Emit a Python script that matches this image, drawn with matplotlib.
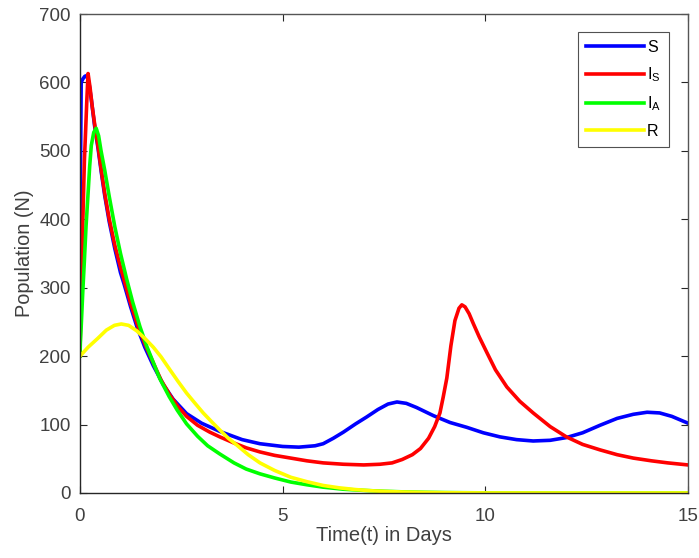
import matplotlib
matplotlib.use("Agg")
import matplotlib.pyplot as plt

plt.rcParams['font.family'] = ['Liberation Sans', 'DejaVu Sans']
plt.rcParams['mathtext.fontset'] = 'custom'
plt.rcParams['mathtext.rm'] = 'Liberation Sans'
plt.rcParams['mathtext.it'] = 'Liberation Sans'

# ---- data ----
t_S = [0, 0.01, 0.03, 0.07, 0.12, 0.17, 0.22, 0.28, 0.36, 0.45, 0.53, 0.61, 0.72, 0.86,
       1.0, 1.09, 1.25, 1.41, 1.6, 1.81, 2.06, 2.3, 2.63, 3.0, 3.45, 4.0, 4.44, 5.0,
       5.4, 5.8, 6.0, 6.25, 6.5, 6.8, 7.07, 7.35, 7.6, 7.82, 8.05, 8.3, 8.72, 9.13,
       9.54, 9.95, 10.36, 10.77, 11.18, 11.6, 12.0, 12.4, 12.83, 13.25, 13.65, 13.99,
       14.3, 14.6, 15.0]
S = [200, 450, 600, 605, 609, 610, 600, 575, 537, 502, 467, 435, 397, 357,
     322, 305, 272, 242, 213, 186, 158, 137, 116, 102, 90, 78, 72, 68,
     67, 69, 72, 80, 89, 101, 111, 122, 130, 133, 131, 125, 113, 103,
     96, 88, 82, 78, 76, 77, 81, 88, 99, 109, 115, 118,
     117, 112, 102]

t_IS = [0, 0.02, 0.05, 0.08, 0.11, 0.14, 0.17, 0.2, 0.25, 0.3, 0.36, 0.45, 0.53, 0.61,
        0.72, 0.86, 1.0, 1.09, 1.25, 1.41, 1.6, 1.81, 2.0, 2.22, 2.42, 2.63, 2.9, 3.2,
        3.45, 3.8, 4.1, 4.44, 4.8, 5.2, 5.6, 6.0, 6.5, 7.0, 7.4, 7.7, 7.95, 8.2, 8.4,
        8.6, 8.75, 8.88, 8.96, 9.05, 9.15, 9.25, 9.35, 9.42, 9.5, 9.6, 9.7, 9.85, 10.04,
        10.25, 10.53, 10.85, 11.18, 11.6, 12.0, 12.4, 12.83, 13.25, 13.65, 14.1, 14.5, 15.0]
I_S = [200, 270, 341, 420, 487, 530, 575, 613, 592, 566, 540, 505, 470, 438,
       401, 362, 330, 311, 277, 247, 218, 190, 165, 143, 126, 112, 99, 89,
       82, 73, 66, 60, 55, 51, 47, 44, 42, 41, 42, 44, 49, 56, 65,
       80, 97, 117, 140, 168, 215, 252, 270, 275, 272, 262, 248, 228, 205,
       180, 155, 134, 117, 97, 82, 71, 63, 56, 51, 47, 44, 41]

t_IA = [0, 0.01, 0.03, 0.07, 0.11, 0.15, 0.2, 0.24, 0.28, 0.34, 0.4, 0.46, 0.52, 0.61,
        0.72, 0.86, 1.0, 1.15, 1.3, 1.48, 1.65, 1.8, 1.97, 2.2, 2.4, 2.63, 2.9, 3.15,
        3.45, 3.8, 4.1, 4.44, 4.8, 5.2, 5.6, 6.0, 6.5, 7.0, 7.5, 8.0, 8.5, 9.0, 10.0,
        12.0, 15.0]
I_A = [200, 220, 243, 295, 341, 390, 438, 478, 508, 527, 533, 522, 500, 472,
       434, 389, 350, 313, 279, 243, 214, 192, 167, 141, 121, 101, 83, 69,
       57, 44, 35, 28, 22, 16, 12, 8.5, 5.5, 3.8, 2.5, 1.6, 1.0, 0.6, 0.2,
       0, 0]

t_R = [0, 0.2, 0.44, 0.65, 0.85, 1.02, 1.2, 1.4, 1.6, 1.81, 2.0, 2.22, 2.42, 2.63,
       2.84, 3.04, 3.25, 3.45, 3.66, 3.87, 4.15, 4.44, 4.8, 5.2, 5.6, 6.0, 6.4, 6.8,
       7.2, 7.6, 8.0, 8.5, 9.0, 10.0, 12.0, 15.0]
R = [200, 213, 226, 238, 245, 247, 245, 237, 226, 213, 199, 180, 163, 146,
     131, 117, 104, 92, 80, 70, 56, 44, 33, 23, 16.5, 11, 7.5, 5,
     3.2, 2.1, 1.4, 0.8, 0.4, 0.1, 0, 0]

series = [(t_S, S, '#0000ff', 'S'),
          (t_IS, I_S, '#ff0000', r'I$_\mathregular{S}$'),
          (t_IA, I_A, '#00ff00', r'I$_\mathregular{A}$'),
          (t_R, R, '#ffff00', 'R')]

x_ticks = [0, 5, 10, 15]
y_ticks = [0, 100, 200, 300, 400, 500, 600, 700]

fig = plt.figure(figsize=(6.99, 5.58), dpi=100)
ax = fig.add_axes([0.1144, 0.1165, 0.8699, 0.8584])

for t, v, c, lab in series:
    ax.plot(t, v, color=c, lw=2.6, label=lab, solid_joinstyle='round')

ax.set_xlim(0, 15)
ax.set_ylim(0, 700)
ax.set_xticks(x_ticks)
ax.set_yticks(y_ticks)
ax.tick_params(direction='in', top=True, right=True, length=5, width=0.8,
               colors='#262626', labelcolor='#404040', labelsize=13.5)
ax.tick_params(axis='x', pad=11)
ax.tick_params(axis='y', pad=6.5)
for side in ['left', 'bottom']:
    ax.spines[side].set_color('#262626')
    ax.spines[side].set_linewidth(1.0)
for side in ['top', 'right']:
    ax.spines[side].set_color('#555555')
    ax.spines[side].set_linewidth(1.0)

ax.set_xlabel('Time(t) in Days', fontsize=14.5, color='#404040', labelpad=0.5)
ax.set_ylabel('Population (N)', fontsize=14.3, color='#404040', labelpad=4)

leg = ax.legend(loc='upper right', bbox_to_anchor=(0.9688, 0.9624), fontsize=11.5,
                frameon=True, fancybox=False, edgecolor='#262626', handlelength=3.6,
                handletextpad=0.2, labelspacing=0.66, borderpad=0.5, borderaxespad=0)
leg.get_frame().set_linewidth(0.8)

fig.savefig('out.png', dpi=100)
